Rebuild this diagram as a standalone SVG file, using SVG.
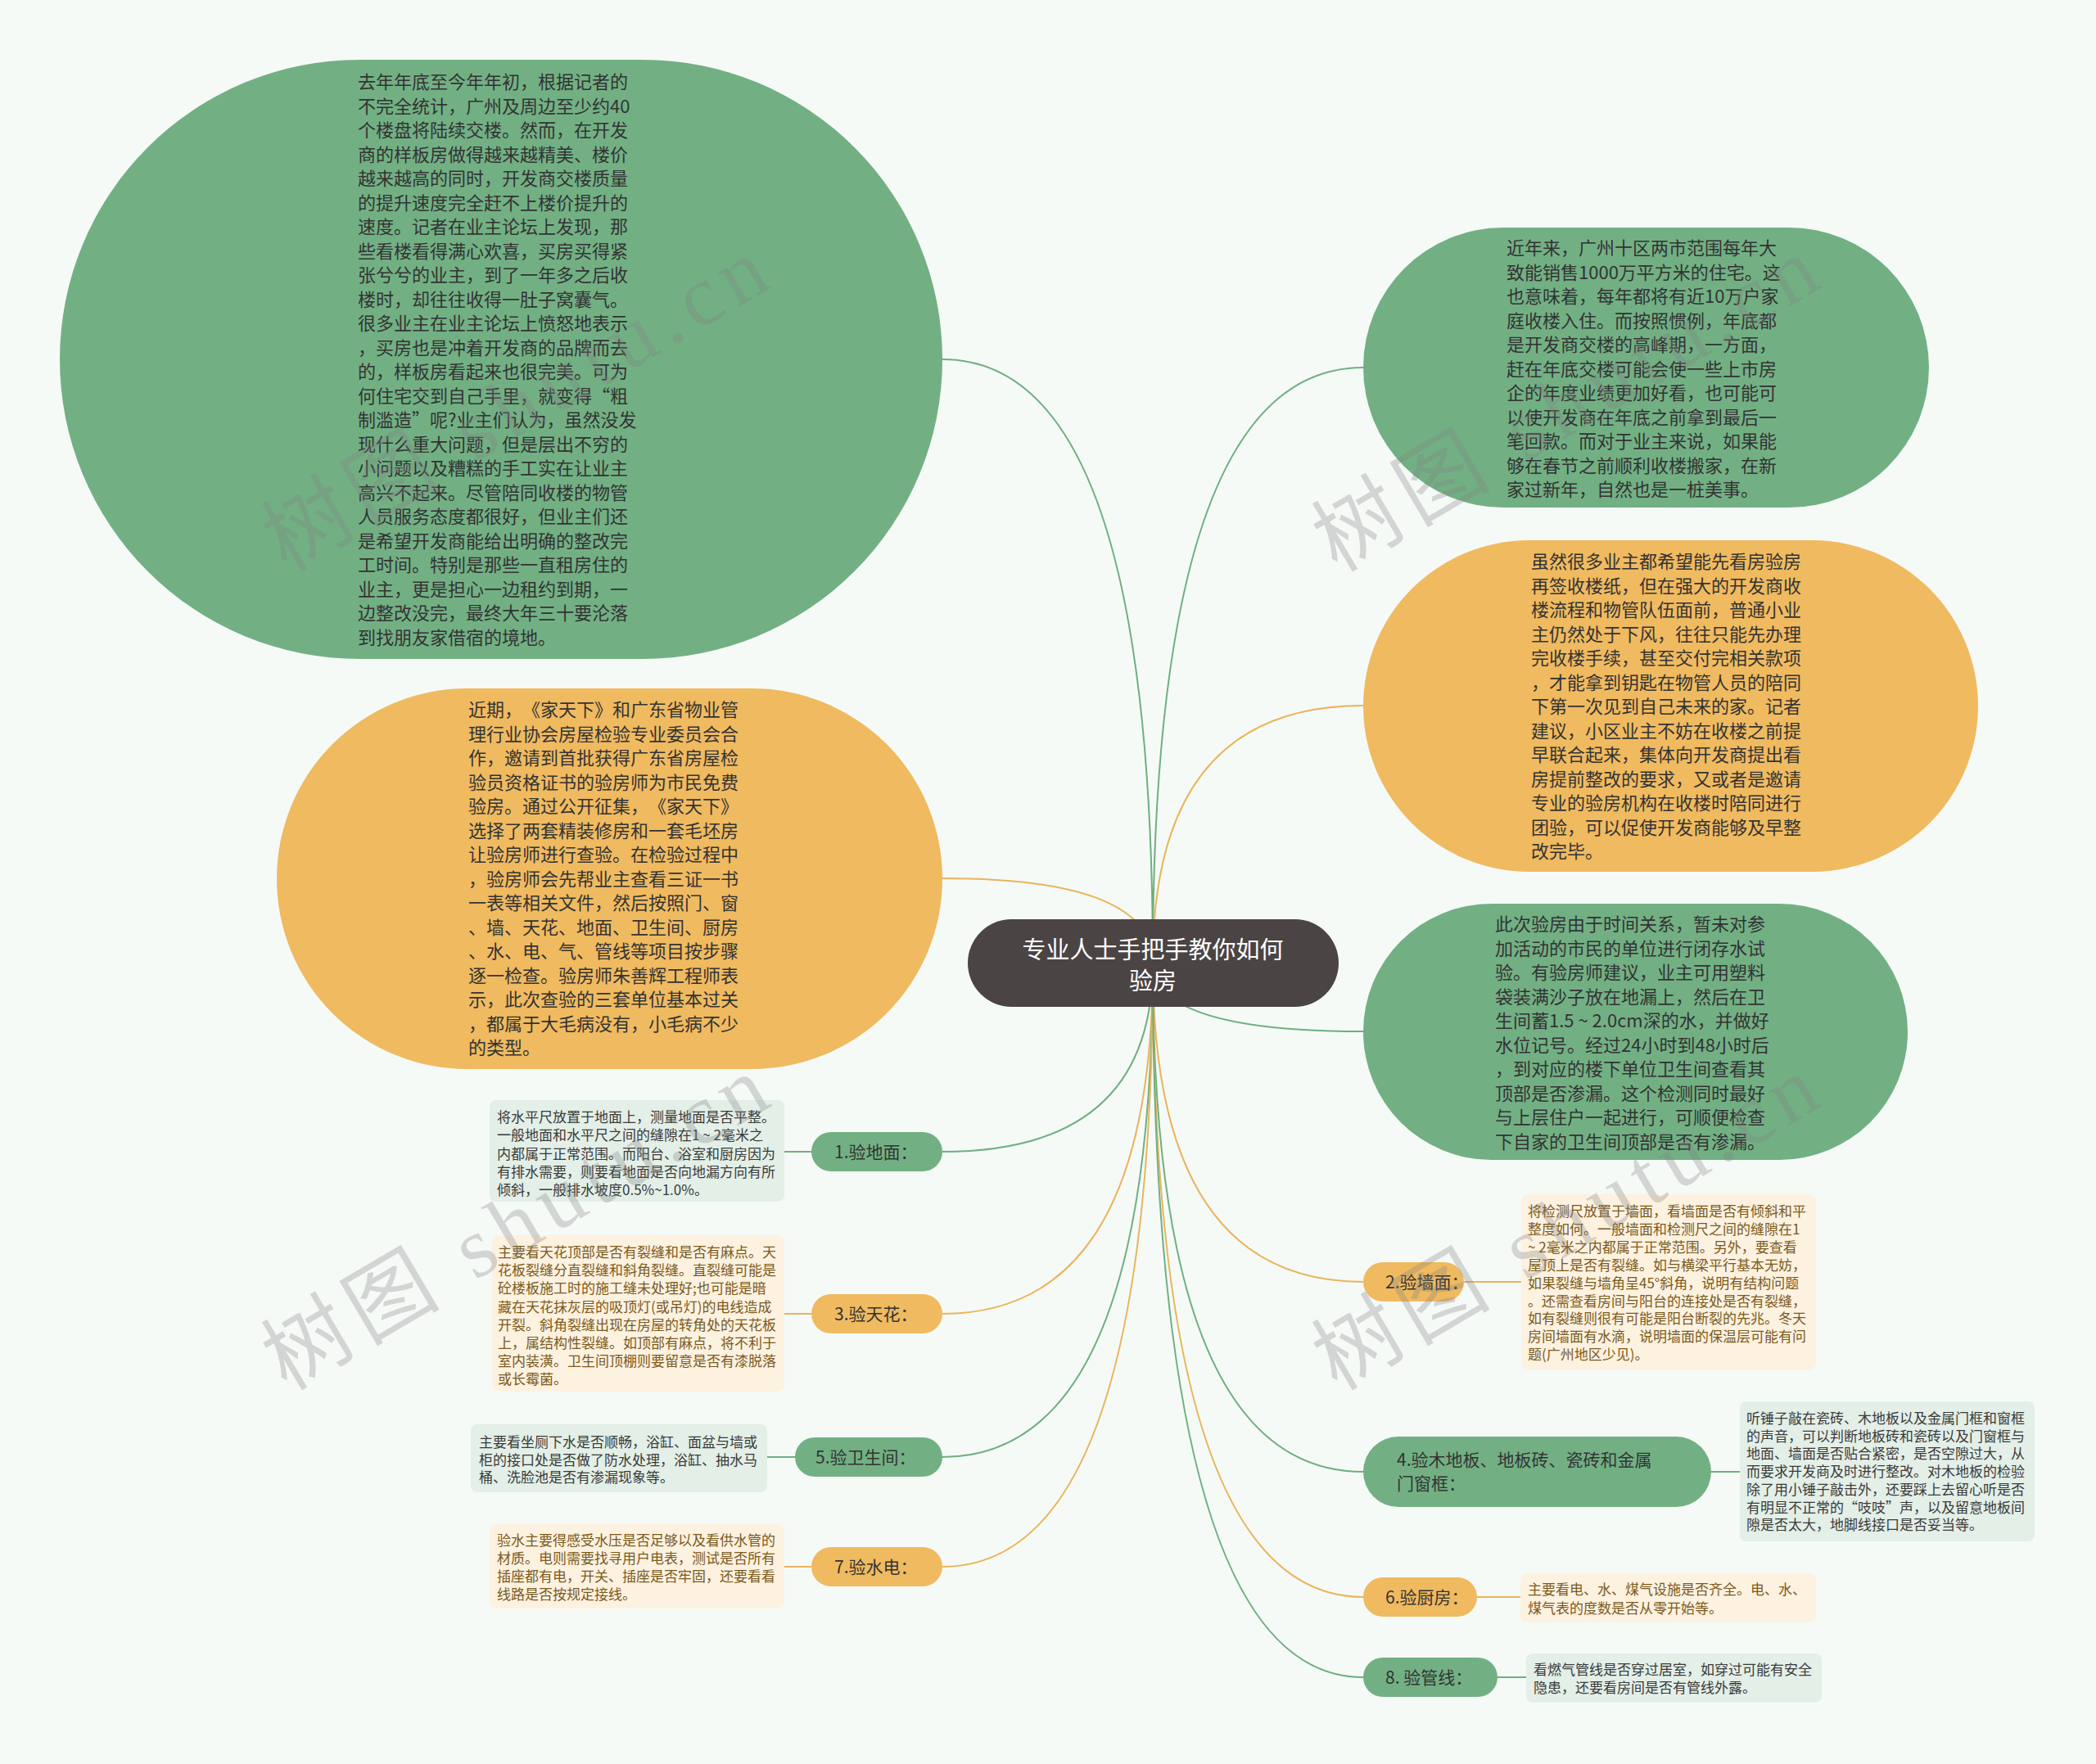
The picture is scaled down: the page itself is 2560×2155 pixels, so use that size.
<svg xmlns="http://www.w3.org/2000/svg" width="2560" height="2155" viewBox="0 0 2560 2155">
<defs>
<style>
.bg{fill:#f5faf7}
.g{fill:#72b084}
.o{fill:#f0ba60}
.lg{fill:#e3efe7}
.lo{fill:#fdf1e0}
.cg{fill:none;stroke:#6fae80;stroke-width:2}
.co{fill:none;stroke:#eab45a;stroke-width:2}
text{font-family:"Noto Sans CJK SC","Noto Sans",sans-serif;text-spacing-trim:space-all}
.big{font-size:22px;fill:#333}
.lf{font-size:17px;fill:#3a3a3a}
.lfo{font-size:17px;fill:#7a5a1c}
.pl{font-size:21px;fill:#333}
.root{font-size:29px;fill:#fff;text-anchor:middle}
.wm{font-family:"Liberation Serif","Noto Sans CJK SC",serif;font-size:105px;fill:#808080;fill-opacity:0.3}
</style>
</defs>
<rect class="bg" x="0" y="0" width="2560" height="2155"/>
<g id="connectors">
<path class="cg" d="M1408,1176 Q1408,439 1151,439"/>
<path class="cg" d="M1408,1176 Q1408,449 1665,449"/>
<path class="co" d="M1408,1176 Q1408,862 1665,862"/>
<path class="co" d="M1408,1176 Q1408,1073 1151,1073"/>
<path class="cg" d="M1408,1176 Q1408,1260 1665,1260"/>
<path class="cg" d="M1408,1176 Q1408,1407 1151,1407"/>
<path class="co" d="M1408,1176 Q1408,1605 1151,1605"/>
<path class="cg" d="M1408,1176 Q1408,1780 1151,1780"/>
<path class="co" d="M1408,1176 Q1408,1914 1151,1914"/>
<path class="co" d="M1408,1176 Q1408,1566 1665,1566"/>
<path class="cg" d="M1408,1176 Q1408,1798 1665,1798"/>
<path class="co" d="M1408,1176 Q1408,1951 1665,1951"/>
<path class="cg" d="M1408,1176 Q1408,2049 1665,2049"/>
<path class="cg" d="M958,1407 H991"/>
<path class="co" d="M958,1605 H991"/>
<path class="cg" d="M937,1780 H971"/>
<path class="co" d="M958,1914 H991"/>
<path class="co" d="M1788,1566 H1858"/>
<path class="cg" d="M2090,1798 H2125"/>
<path class="co" d="M1804,1951 H1857"/>
<path class="cg" d="M1829,2049 H1864"/>
</g>
<g id="root">
<rect x="1182" y="1123" width="453" height="107" rx="53.5" fill="#4a4444"/>
<text class="root" x="1408" y="1171">专业人士手把手教你如何</text>
<text class="root" x="1408" y="1209">验房</text>
</g>
<g id="topic1">
<rect class="g" x="73" y="73" width="1078" height="732" rx="366"/>
<text class="big">
<tspan x="437" y="108">去年年底至今年年初，根据记者的</tspan>
<tspan x="437" dy="29.5">不完全统计，广州及周边至少约40</tspan>
<tspan x="437" dy="29.5">个楼盘将陆续交楼。然而，在开发</tspan>
<tspan x="437" dy="29.5">商的样板房做得越来越精美、楼价</tspan>
<tspan x="437" dy="29.5">越来越高的同时，开发商交楼质量</tspan>
<tspan x="437" dy="29.5">的提升速度完全赶不上楼价提升的</tspan>
<tspan x="437" dy="29.5">速度。记者在业主论坛上发现，那</tspan>
<tspan x="437" dy="29.5">些看楼看得满心欢喜，买房买得紧</tspan>
<tspan x="437" dy="29.5">张兮兮的业主，到了一年多之后收</tspan>
<tspan x="437" dy="29.5">楼时，却往往收得一肚子窝囊气。</tspan>
<tspan x="437" dy="29.5">很多业主在业主论坛上愤怒地表示</tspan>
<tspan x="437" dy="29.5">，买房也是冲着开发商的品牌而去</tspan>
<tspan x="437" dy="29.5">的，样板房看起来也很完美。可为</tspan>
<tspan x="437" dy="29.5">何住宅交到自己手里，就变得“粗</tspan>
<tspan x="437" dy="29.5">制滥造”呢?业主们认为，虽然没发</tspan>
<tspan x="437" dy="29.5">现什么重大问题，但是层出不穷的</tspan>
<tspan x="437" dy="29.5">小问题以及糟糕的手工实在让业主</tspan>
<tspan x="437" dy="29.5">高兴不起来。尽管陪同收楼的物管</tspan>
<tspan x="437" dy="29.5">人员服务态度都很好，但业主们还</tspan>
<tspan x="437" dy="29.5">是希望开发商能给出明确的整改完</tspan>
<tspan x="437" dy="29.5">工时间。特别是那些一直租房住的</tspan>
<tspan x="437" dy="29.5">业主，更是担心一边租约到期，一</tspan>
<tspan x="437" dy="29.5">边整改没完，最终大年三十要沦落</tspan>
<tspan x="437" dy="29.5">到找朋友家借宿的境地。</tspan>
</text>
</g>
<g id="topic2">
<rect class="g" x="1665" y="278" width="691" height="342" rx="171"/>
<text class="big">
<tspan x="1840" y="311">近年来，广州十区两市范围每年大</tspan>
<tspan x="1840" dy="29.5">致能销售1000万平方米的住宅。这</tspan>
<tspan x="1840" dy="29.5">也意味着，每年都将有近10万户家</tspan>
<tspan x="1840" dy="29.5">庭收楼入住。而按照惯例，年底都</tspan>
<tspan x="1840" dy="29.5">是开发商交楼的高峰期，一方面，</tspan>
<tspan x="1840" dy="29.5">赶在年底交楼可能会使一些上市房</tspan>
<tspan x="1840" dy="29.5">企的年度业绩更加好看，也可能可</tspan>
<tspan x="1840" dy="29.5">以使开发商在年底之前拿到最后一</tspan>
<tspan x="1840" dy="29.5">笔回款。而对于业主来说，如果能</tspan>
<tspan x="1840" dy="29.5">够在春节之前顺利收楼搬家，在新</tspan>
<tspan x="1840" dy="29.5">家过新年，自然也是一桩美事。</tspan>
</text>
</g>
<g id="topic3">
<rect class="o" x="1665" y="660" width="751" height="405" rx="202.5"/>
<text class="big">
<tspan x="1870" y="694">虽然很多业主都希望能先看房验房</tspan>
<tspan x="1870" dy="29.5">再签收楼纸，但在强大的开发商收</tspan>
<tspan x="1870" dy="29.5">楼流程和物管队伍面前，普通小业</tspan>
<tspan x="1870" dy="29.5">主仍然处于下风，往往只能先办理</tspan>
<tspan x="1870" dy="29.5">完收楼手续，甚至交付完相关款项</tspan>
<tspan x="1870" dy="29.5">，才能拿到钥匙在物管人员的陪同</tspan>
<tspan x="1870" dy="29.5">下第一次见到自己未来的家。记者</tspan>
<tspan x="1870" dy="29.5">建议，小区业主不妨在收楼之前提</tspan>
<tspan x="1870" dy="29.5">早联合起来，集体向开发商提出看</tspan>
<tspan x="1870" dy="29.5">房提前整改的要求，又或者是邀请</tspan>
<tspan x="1870" dy="29.5">专业的验房机构在收楼时陪同进行</tspan>
<tspan x="1870" dy="29.5">团验，可以促使开发商能够及早整</tspan>
<tspan x="1870" dy="29.5">改完毕。</tspan>
</text>
</g>
<g id="topic4">
<rect class="o" x="338" y="841" width="813" height="465" rx="232.5"/>
<text class="big">
<tspan x="572" y="875">近期，《家天下》和广东省物业管</tspan>
<tspan x="572" dy="29.5">理行业协会房屋检验专业委员会合</tspan>
<tspan x="572" dy="29.5">作，邀请到首批获得广东省房屋检</tspan>
<tspan x="572" dy="29.5">验员资格证书的验房师为市民免费</tspan>
<tspan x="572" dy="29.5">验房。通过公开征集，《家天下》</tspan>
<tspan x="572" dy="29.5">选择了两套精装修房和一套毛坯房</tspan>
<tspan x="572" dy="29.5">让验房师进行查验。在检验过程中</tspan>
<tspan x="572" dy="29.5">，验房师会先帮业主查看三证一书</tspan>
<tspan x="572" dy="29.5">一表等相关文件，然后按照门、窗</tspan>
<tspan x="572" dy="29.5">、墙、天花、地面、卫生间、厨房</tspan>
<tspan x="572" dy="29.5">、水、电、气、管线等项目按步骤</tspan>
<tspan x="572" dy="29.5">逐一检查。验房师朱善辉工程师表</tspan>
<tspan x="572" dy="29.5">示，此次查验的三套单位基本过关</tspan>
<tspan x="572" dy="29.5">，都属于大毛病没有，小毛病不少</tspan>
<tspan x="572" dy="29.5">的类型。</tspan>
</text>
</g>
<g id="topic5">
<rect class="g" x="1665" y="1104" width="665" height="313" rx="156.5"/>
<text class="big">
<tspan x="1826" y="1137">此次验房由于时间关系，暂未对参</tspan>
<tspan x="1826" dy="29.5">加活动的市民的单位进行闭存水试</tspan>
<tspan x="1826" dy="29.5">验。有验房师建议，业主可用塑料</tspan>
<tspan x="1826" dy="29.5">袋装满沙子放在地漏上，然后在卫</tspan>
<tspan x="1826" dy="29.5">生间蓄1.5 ~ 2.0cm深的水，并做好</tspan>
<tspan x="1826" dy="29.5">水位记号。经过24小时到48小时后</tspan>
<tspan x="1826" dy="29.5">，到对应的楼下单位卫生间查看其</tspan>
<tspan x="1826" dy="29.5">顶部是否渗漏。这个检测同时最好</tspan>
<tspan x="1826" dy="29.5">与上层住户一起进行，可顺便检查</tspan>
<tspan x="1826" dy="29.5">下自家的卫生间顶部是否有渗漏。</tspan>
</text>
</g>
<g id="branch1">
<rect class="g" x="991" y="1383" width="160" height="48" rx="24"/>
<text class="pl" x="1019" y="1415">1.验地面：</text>
</g>
<g id="leaf1">
<rect class="lg" x="598" y="1344" width="360" height="124" rx="8"/>
<text class="lf">
<tspan x="607" y="1371">将水平尺放置于地面上，测量地面是否平整。</tspan>
<tspan x="607" dy="22.3">一般地面和水平尺之间的缝隙在1 ~ 2毫米之</tspan>
<tspan x="607" dy="22.3">内都属于正常范围。而阳台、浴室和厨房因为</tspan>
<tspan x="607" dy="22.3">有排水需要，则要看地面是否向地漏方向有所</tspan>
<tspan x="607" dy="22.3">倾斜，一般排水坡度0.5%~1.0%。</tspan>
</text>
</g>
<g id="branch3">
<rect class="o" x="991" y="1581" width="160" height="48" rx="24"/>
<text class="pl" x="1019" y="1613">3.验天花：</text>
</g>
<g id="leaf3">
<rect class="lo" x="601" y="1509" width="357" height="191" rx="8"/>
<text class="lfo">
<tspan x="608" y="1536">主要看天花顶部是否有裂缝和是否有麻点。天</tspan>
<tspan x="608" dy="22.2">花板裂缝分直裂缝和斜角裂缝。直裂缝可能是</tspan>
<tspan x="608" dy="22.2">砼楼板施工时的施工缝未处理好;也可能是暗</tspan>
<tspan x="608" dy="22.2">藏在天花抹灰层的吸顶灯(或吊灯)的电线造成</tspan>
<tspan x="608" dy="22.2">开裂。斜角裂缝出现在房屋的转角处的天花板</tspan>
<tspan x="608" dy="22.2">上，属结构性裂缝。如顶部有麻点，将不利于</tspan>
<tspan x="608" dy="22.2">室内装潢。卫生间顶棚则要留意是否有漆脱落</tspan>
<tspan x="608" dy="22.2">或长霉菌。</tspan>
</text>
</g>
<g id="branch5">
<rect class="g" x="971" y="1756" width="180" height="48" rx="24"/>
<text class="pl" x="996" y="1788">5.验卫生间：</text>
</g>
<g id="leaf5">
<rect class="lg" x="575" y="1740" width="362" height="83" rx="8"/>
<text class="lf">
<tspan x="585" y="1768">主要看坐厕下水是否顺畅，浴缸、面盆与墙或</tspan>
<tspan x="585" dy="21.7">柜的接口处是否做了防水处理，浴缸、抽水马</tspan>
<tspan x="585" dy="21.7">桶、洗脸池是否有渗漏现象等。</tspan>
</text>
</g>
<g id="branch7">
<rect class="o" x="991" y="1890" width="160" height="48" rx="24"/>
<text class="pl" x="1019" y="1922">7.验水电：</text>
</g>
<g id="leaf7">
<rect class="lo" x="598" y="1862" width="360" height="103" rx="8"/>
<text class="lfo">
<tspan x="607" y="1888">验水主要得感受水压是否足够以及看供水管的</tspan>
<tspan x="607" dy="22">材质。电则需要找寻用户电表，测试是否所有</tspan>
<tspan x="607" dy="22">插座都有电，开关、插座是否牢固，还要看看</tspan>
<tspan x="607" dy="22">线路是否按规定接线。</tspan>
</text>
</g>
<g id="branch2">
<rect class="o" x="1665" y="1542" width="123" height="48" rx="24"/>
<text class="pl" x="1692" y="1574">2.验墙面：</text>
</g>
<g id="leaf2">
<rect class="lo" x="1858" y="1459" width="360" height="214" rx="8"/>
<text class="lfo">
<tspan x="1866" y="1486">将检测尺放置于墙面，看墙面是否有倾斜和平</tspan>
<tspan x="1866" dy="21.9">整度如何。一般墙面和检测尺之间的缝隙在1</tspan>
<tspan x="1866" dy="21.9">~ 2毫米之内都属于正常范围。另外，要查看</tspan>
<tspan x="1866" dy="21.9">屋顶上是否有裂缝。如与横梁平行基本无妨，</tspan>
<tspan x="1866" dy="21.9">如果裂缝与墙角呈45°斜角，说明有结构问题</tspan>
<tspan x="1866" dy="21.9">。还需查看房间与阳台的连接处是否有裂缝，</tspan>
<tspan x="1866" dy="21.9">如有裂缝则很有可能是阳台断裂的先兆。冬天</tspan>
<tspan x="1866" dy="21.9">房间墙面有水滴，说明墙面的保温层可能有问</tspan>
<tspan x="1866" dy="21.9">题(广州地区少见)。</tspan>
</text>
</g>
<g id="branch4">
<rect class="g" x="1665" y="1755" width="425" height="86" rx="43"/>
<text class="pl">
<tspan x="1706" y="1791">4.验木地板、地板砖、瓷砖和金属</tspan>
<tspan x="1706" y="1820">门窗框：</tspan>
</text>
</g>
<g id="leaf4">
<rect class="lg" x="2125" y="1712" width="360" height="171" rx="8"/>
<text class="lf">
<tspan x="2133" y="1739">听锤子敲在瓷砖、木地板以及金属门框和窗框</tspan>
<tspan x="2133" dy="21.7">的声音，可以判断地板砖和瓷砖以及门窗框与</tspan>
<tspan x="2133" dy="21.7">地面、墙面是否贴合紧密，是否空隙过大，从</tspan>
<tspan x="2133" dy="21.7">而要求开发商及时进行整改。对木地板的检验</tspan>
<tspan x="2133" dy="21.7">除了用小锤子敲击外，还要踩上去留心听是否</tspan>
<tspan x="2133" dy="21.7">有明显不正常的“吱吱”声，以及留意地板间</tspan>
<tspan x="2133" dy="21.7">隙是否太大，地脚线接口是否妥当等。</tspan>
</text>
</g>
<g id="branch6">
<rect class="o" x="1665" y="1927" width="139" height="48" rx="24"/>
<text class="pl" x="1692" y="1959">6.验厨房：</text>
</g>
<g id="leaf6">
<rect class="lo" x="1857" y="1922" width="361" height="60" rx="8"/>
<text class="lfo">
<tspan x="1866" y="1948">主要看电、水、煤气设施是否齐全。电、水、</tspan>
<tspan x="1866" dy="22.5">煤气表的度数是否从零开始等。</tspan>
</text>
</g>
<g id="branch8">
<rect class="g" x="1665" y="2025" width="164" height="48" rx="24"/>
<text class="pl" x="1692" y="2057">8. 验管线：</text>
</g>
<g id="leaf8">
<rect class="lg" x="1864" y="2020" width="361" height="60" rx="8"/>
<text class="lf">
<tspan x="1873" y="2046">看燃气管线是否穿过居室，如穿过可能有安全</tspan>
<tspan x="1873" dy="22">隐患，还要看房间是否有管线外露。</tspan>
</text>
</g>
<g id="watermarks">
<text class="wm" x="350" y="700" transform="rotate(-30.5 350 700)" textLength="690" lengthAdjust="spacing">树图 shutu.cn</text>
<text class="wm" x="1633" y="700" transform="rotate(-30.5 1633 700)" textLength="690" lengthAdjust="spacing">树图 shutu.cn</text>
<text class="wm" x="350" y="1700" transform="rotate(-30.5 350 1700)" textLength="690" lengthAdjust="spacing">树图 shutu.cn</text>
<text class="wm" x="1633" y="1700" transform="rotate(-30.5 1633 1700)" textLength="690" lengthAdjust="spacing">树图 shutu.cn</text>
</g>
</svg>
